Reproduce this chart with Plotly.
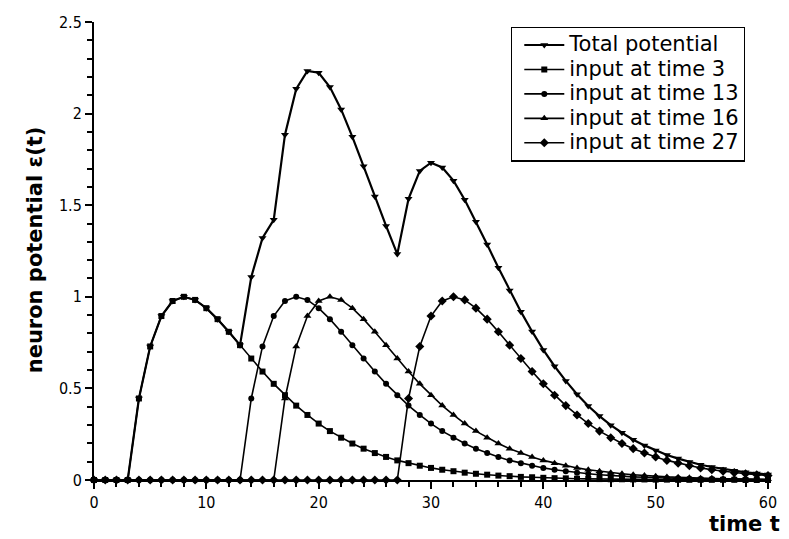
import plotly.graph_objects as go

t = list(range(0, 61))

total = [0, 0, 0, 0, 0.445, 0.729, 0.895, 0.977, 1.000, 0.983,
         0.938, 0.878, 0.809, 0.736, 1.108, 1.321, 1.420, 1.885, 2.135, 2.233,
         2.223, 2.145, 2.023, 1.873, 1.712, 1.548, 1.387, 1.233, 1.535, 1.687,
         1.732, 1.706, 1.634, 1.530, 1.410, 1.285, 1.158, 1.035, 0.919, 0.811,
         0.710, 0.621, 0.541, 0.468, 0.404, 0.349, 0.299, 0.258, 0.220, 0.189,
         0.161, 0.136, 0.117, 0.098, 0.083, 0.071, 0.060, 0.051, 0.042, 0.036,
         0.030]

input3 = [0, 0, 0, 0, 0.445, 0.729, 0.895, 0.977, 1.000, 0.983,
          0.938, 0.878, 0.809, 0.736, 0.663, 0.592, 0.525, 0.463, 0.406, 0.355,
          0.308, 0.267, 0.231, 0.199, 0.171, 0.147, 0.126, 0.107, 0.092, 0.078,
          0.066, 0.056, 0.048, 0.040, 0.034, 0.029, 0.024, 0.021, 0.017, 0.015,
          0.012, 0.010, 0.009, 0.007, 0.006, 0.005, 0.004, 0.004, 0.003, 0.003,
          0.002, 0.002, 0.001, 0.001, 0.001, 0.001, 0.001, 0.001, 0.000, 0.000,
          0.000]

input13 = [0, 0, 0, 0, 0, 0, 0, 0, 0, 0,
           0, 0, 0, 0, 0.445, 0.729, 0.895, 0.977, 1.000, 0.983,
           0.938, 0.878, 0.809, 0.736, 0.663, 0.592, 0.525, 0.463, 0.406, 0.355,
           0.308, 0.267, 0.231, 0.199, 0.171, 0.147, 0.126, 0.107, 0.092, 0.078,
           0.066, 0.056, 0.048, 0.040, 0.034, 0.029, 0.024, 0.021, 0.017, 0.015,
           0.012, 0.010, 0.009, 0.007, 0.006, 0.005, 0.004, 0.004, 0.003, 0.003,
           0.002]

input16 = [0, 0, 0, 0, 0, 0, 0, 0, 0, 0,
           0, 0, 0, 0, 0, 0, 0, 0.445, 0.729, 0.895,
           0.977, 1.000, 0.983, 0.938, 0.878, 0.809, 0.736, 0.663, 0.592, 0.525,
           0.463, 0.406, 0.355, 0.308, 0.267, 0.231, 0.199, 0.171, 0.147, 0.126,
           0.107, 0.092, 0.078, 0.066, 0.056, 0.048, 0.040, 0.034, 0.029, 0.024,
           0.021, 0.017, 0.015, 0.012, 0.010, 0.009, 0.007, 0.006, 0.005, 0.004,
           0.004]

input27 = [0, 0, 0, 0, 0, 0, 0, 0, 0, 0,
           0, 0, 0, 0, 0, 0, 0, 0, 0, 0,
           0, 0, 0, 0, 0, 0, 0, 0, 0.445, 0.729,
           0.895, 0.977, 1.000, 0.983, 0.938, 0.878, 0.809, 0.736, 0.663, 0.592,
           0.525, 0.463, 0.406, 0.355, 0.308, 0.267, 0.231, 0.199, 0.171, 0.147,
           0.126, 0.107, 0.092, 0.078, 0.066, 0.056, 0.048, 0.040, 0.034, 0.029,
           0.024]

series_names = ["Total potential", "input at time 3", "input at time 13",
                "input at time 16", "input at time 27"]
series_values = [total, input3, input13, input16, input27]
symbols = ["triangle-down", "square", "circle", "triangle-up", "diamond"]
widths = [2.2, 1.6, 1.6, 1.6, 1.6]
sizes = [7, 6, 6, 7, 7]

x_ticks = [0, 10, 20, 30, 40, 50, 60]
y_ticks = [0, 0.5, 1, 1.5, 2, 2.5]
y_ticklabels = ["0", "0.5", "1", "1.5", "2", "2.5"]

fig = go.Figure()
for name, vals, sym, w, s in zip(series_names, series_values, symbols, widths, sizes):
    fig.add_trace(go.Scatter(
        x=t, y=vals, name='<span style="font-size:21px">' + name + '</span>',
        mode="lines+markers",
        line=dict(color="black", width=w),
        marker=dict(symbol=sym, size=s, color="black"),
        cliponaxis=False,
    ))

axis_font = dict(family="DejaVu Sans Condensed, DejaVu Sans", size=16, color="black")

fig.update_layout(
    width=789, height=539,
    margin=dict(l=94, r=17, t=22, b=59),
    paper_bgcolor="white", plot_bgcolor="white",
    showlegend=True,
    legend=dict(
        x=0.966, y=0.99, xanchor="right", yanchor="top",
        bordercolor="black", borderwidth=1.2, bgcolor="white",
        font=dict(family="DejaVu Sans", size=16.5, color="black"),
        tracegroupgap=0, itemwidth=40, indentation=7,
    ),
    xaxis=dict(
        range=[0, 60], tickvals=x_ticks, ticktext=[str(v) for v in x_ticks],
        showgrid=False, zeroline=False, showline=True, linecolor="black", linewidth=2,
        ticks="outside", ticklen=7, tickwidth=2, tickcolor="black",
        minor=dict(dtick=2, ticks="outside", ticklen=5, tickwidth=1.5, tickcolor="black"),
        tickfont=axis_font,
    ),
    yaxis=dict(
        range=[0, 2.5], tickvals=y_ticks, ticktext=y_ticklabels,
        showgrid=False, zeroline=False, showline=True, linecolor="black", linewidth=2,
        ticks="outside", ticklen=7, tickwidth=2, tickcolor="black",
        minor=dict(dtick=0.1, ticks="outside", ticklen=5, tickwidth=1.5, tickcolor="black"),
        tickfont=axis_font,
    ),
    annotations=[
        dict(text="<b>neuron potential ε(t)</b>", xref="paper", yref="paper",
             x=-0.088, y=0.503, xanchor="center", yanchor="middle", textangle=-90,
             showarrow=False, font=dict(family="DejaVu Sans", size=21, color="black")),
        dict(text="<b>time t</b>", xref="paper", yref="paper",
             x=1.021, y=-0.096, xanchor="right", yanchor="middle",
             showarrow=False, font=dict(family="DejaVu Sans", size=21, color="black")),
    ],
)

fig.write_html("out.html")
